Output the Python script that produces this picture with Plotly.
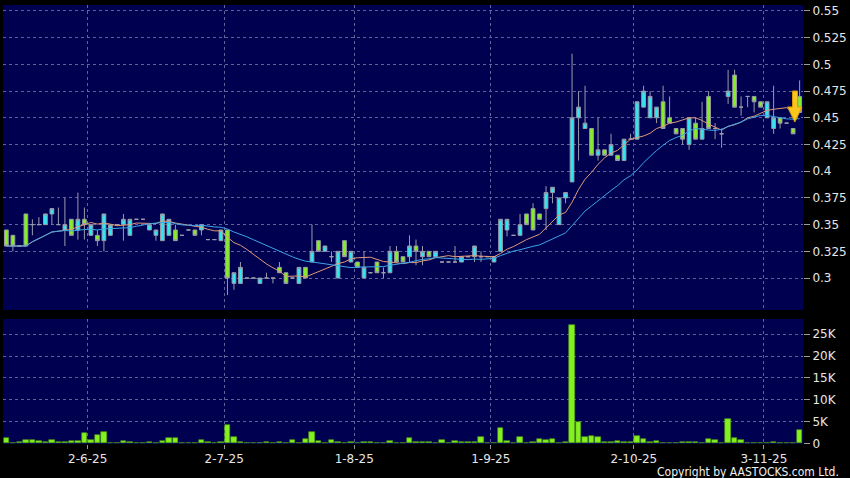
import pandas as pd
import plotly.graph_objects as go

# daily sessions, left to right (one entry per trading day)
opens = [0.345, 0.34, 0.33, 0.36, 0.35, 0.35, 0.35, 0.36, 0.35, 0.345,
         0.355, 0.345, 0.355, 0.34, 0.34, 0.335, 0.34, 0.35, 0.35, 0.34,
         0.355, 0.355, 0.345, 0.34, 0.335, 0.34, 0.345, 0.34, 0.345, 0.345,
         0.345, 0.336, 0.336, 0.335, 0.345, 0.295, 0.295, 0.30, 0.30, 0.295,
         0.30, 0.30, 0.31, 0.305, 0.30, 0.295, 0.31, 0.315, 0.335, 0.325,
         0.32, 0.30, 0.335, 0.315, 0.315, 0.30, 0.305, 0.315, 0.305, 0.305,
         0.325, 0.32, 0.32, 0.33, 0.32, 0.325, 0.32, 0.315, 0.315, 0.315,
         0.315, 0.32, 0.32, 0.32, 0.32, 0.315, 0.325, 0.345, 0.34, 0.34,
         0.36, 0.365, 0.36, 0.365, 0.38, 0.35, 0.375, 0.39, 0.45, 0.44,
         0.44, 0.415, 0.42, 0.415, 0.415, 0.41, 0.43, 0.43, 0.46, 0.45,
         0.45, 0.465, 0.45, 0.44, 0.44, 0.425, 0.445, 0.43, 0.47, 0.44,
         0.435, 0.47, 0.49, 0.46, 0.47, 0.47, 0.465, 0.45, 0.44, 0.45,
         0.445, 0.44, 0.47]
highs = [0.345, 0.34, 0.33, 0.36, 0.355, 0.357, 0.36, 0.365, 0.366, 0.375,
         0.355, 0.38, 0.366, 0.35, 0.345, 0.36, 0.35, 0.35, 0.36, 0.355,
         0.355, 0.355, 0.35, 0.345, 0.36, 0.355, 0.35, 0.34, 0.345, 0.345,
         0.35, 0.336, 0.336, 0.345, 0.345, 0.305, 0.315, 0.30, 0.30, 0.30,
         0.305, 0.30, 0.315, 0.305, 0.30, 0.31, 0.31, 0.35, 0.335, 0.33,
         0.325, 0.325, 0.335, 0.325, 0.315, 0.325, 0.305, 0.315, 0.31, 0.33,
         0.33, 0.32, 0.34, 0.336, 0.33, 0.325, 0.325, 0.315, 0.315, 0.33,
         0.32, 0.32, 0.33, 0.325, 0.32, 0.32, 0.355, 0.355, 0.34, 0.36,
         0.36, 0.37, 0.36, 0.386, 0.385, 0.375, 0.38, 0.51, 0.475, 0.48,
         0.44, 0.45, 0.42, 0.435, 0.415, 0.43, 0.435, 0.465, 0.48, 0.475,
         0.46, 0.48, 0.47, 0.44, 0.44, 0.45, 0.45, 0.465, 0.475, 0.445,
         0.44, 0.495, 0.495, 0.47, 0.47, 0.47, 0.465, 0.465, 0.48, 0.45,
         0.445, 0.44, 0.485]
lows = [0.33, 0.325, 0.33, 0.33, 0.34, 0.35, 0.35, 0.35, 0.35, 0.33,
        0.34, 0.336, 0.336, 0.34, 0.33, 0.325, 0.34, 0.35, 0.335, 0.34,
        0.355, 0.355, 0.345, 0.335, 0.335, 0.34, 0.335, 0.34, 0.345, 0.34,
        0.34, 0.336, 0.336, 0.335, 0.284, 0.289, 0.295, 0.30, 0.30, 0.295,
        0.30, 0.295, 0.305, 0.295, 0.30, 0.295, 0.30, 0.315, 0.325, 0.325,
        0.315, 0.30, 0.32, 0.315, 0.31, 0.30, 0.305, 0.305, 0.30, 0.305,
        0.315, 0.315, 0.315, 0.312, 0.312, 0.32, 0.32, 0.315, 0.315, 0.315,
        0.315, 0.32, 0.315, 0.315, 0.32, 0.315, 0.325, 0.339, 0.34, 0.34,
        0.35, 0.345, 0.355, 0.345, 0.37, 0.35, 0.37, 0.39, 0.41, 0.44,
        0.415, 0.41, 0.415, 0.415, 0.41, 0.41, 0.43, 0.43, 0.46, 0.45,
        0.445, 0.44, 0.445, 0.435, 0.425, 0.42, 0.43, 0.43, 0.44, 0.43,
        0.422, 0.463, 0.46, 0.452, 0.46, 0.455, 0.46, 0.45, 0.435, 0.44,
        0.445, 0.435, 0.455]
closes = [0.33, 0.33, 0.33, 0.33, 0.35, 0.35, 0.36, 0.365, 0.35, 0.35,
          0.34, 0.355, 0.35, 0.35, 0.335, 0.36, 0.35, 0.35, 0.355, 0.355,
          0.355, 0.355, 0.35, 0.345, 0.36, 0.355, 0.335, 0.34, 0.345, 0.34,
          0.35, 0.336, 0.336, 0.345, 0.30, 0.305, 0.31, 0.30, 0.30, 0.30,
          0.30, 0.30, 0.305, 0.295, 0.30, 0.31, 0.30, 0.325, 0.325, 0.33,
          0.32, 0.325, 0.32, 0.325, 0.31, 0.31, 0.305, 0.305, 0.305, 0.325,
          0.315, 0.315, 0.33, 0.325, 0.325, 0.32, 0.325, 0.315, 0.315, 0.315,
          0.32, 0.32, 0.33, 0.32, 0.32, 0.32, 0.355, 0.355, 0.34, 0.35,
          0.35, 0.345, 0.355, 0.38, 0.385, 0.375, 0.38, 0.45, 0.46, 0.445,
          0.415, 0.42, 0.415, 0.425, 0.41, 0.43, 0.43, 0.465, 0.475, 0.47,
          0.46, 0.44, 0.445, 0.435, 0.43, 0.45, 0.43, 0.44, 0.44, 0.44,
          0.435, 0.475, 0.46, 0.46, 0.47, 0.465, 0.46, 0.465, 0.45, 0.445,
          0.445, 0.435, 0.455]
volumes = [1300, 100, 300, 770, 700, 530, 380, 840, 230, 300,
           530, 460, 2450, 700, 2000, 2600, 80, 0, 530, 230,
           100, 0, 300, 100, 530, 1150, 1150, 0, 0, 80,
           700, 230, 50, 230, 4280, 1530, 230, 50, 50, 80,
           200, 50, 300, 80, 840, 80, 1000, 2600, 610, 80,
           770, 380, 0, 300, 50, 230, 300, 50, 80, 530,
           50, 150, 1150, 380, 380, 230, 80, 770, 100, 460,
           380, 300, 300, 1450, 100, 100, 3510, 530, 50, 1380,
           80, 300, 1000, 770, 1000, 80, 230, 27070, 4890, 1380,
           1760, 1450, 300, 300, 530, 380, 300, 1760, 920, 300,
           530, 100, 80, 80, 230, 230, 230, 80, 920, 770,
           100, 5580, 1230, 770, 100, 100, 80, 100, 380, 100,
           100, 80, 3060]

# first session of each labelled month
tick_idx = [13, 34, 54, 75, 97, 117]
tick_labels = ['2-6-25', '2-7-25', '1-8-25', '1-9-25', '2-10-25', '3-11-25']
price_ticks = [0.3, 0.325, 0.35, 0.375, 0.4, 0.425, 0.45, 0.475, 0.5, 0.525, 0.55]
price_labels = ['0.3', '0.325', '0.35', '0.375', '0.4', '0.425', '0.45', '0.475', '0.5', '0.525', '0.55']
vol_ticks = [0, 5000, 10000, 15000, 20000, 25000]
vol_labels = ['0', '5K', '10K', '15K', '20K', '25K']

df = pd.DataFrame(dict(open=opens, high=highs, low=lows, close=closes, volume=volumes))
df['ma10'] = df['close'].rolling(10, min_periods=1).mean()
df['ma20'] = df['close'].rolling(20, min_periods=1).mean()
idx = list(range(len(df)))
grid_pos = [i - 0.5 for i in tick_idx]  # month boundary

NAVY = '#000050'
GRID = '#62629a'
WICK = '#9a9aaa'
CYAN = '#30e6f2'
GREEN = '#84f020'
font = dict(family='DejaVu Sans', size=12, color='#e6e6e6')

fig = go.Figure()
fig.add_trace(go.Candlestick(
    x=idx, open=df['open'], high=df['high'], low=df['low'], close=df['close'],
    increasing=dict(fillcolor=CYAN, line=dict(color=WICK, width=1)),
    decreasing=dict(fillcolor=GREEN, line=dict(color=WICK, width=1)),
    whiskerwidth=0, xaxis='x', yaxis='y', hoverinfo='skip'))
fig.add_trace(go.Scatter(x=idx, y=df['ma10'], mode='lines', line=dict(color='#e09a76', width=1),
                         xaxis='x', yaxis='y', hoverinfo='skip'))
fig.add_trace(go.Scatter(x=idx, y=df['ma20'], mode='lines', line=dict(color='#3aa6e6', width=1),
                         xaxis='x', yaxis='y', hoverinfo='skip'))
fig.add_trace(go.Bar(x=idx, y=df['volume'], width=0.86, marker_color=GREEN,
                     marker_line=dict(color='#4f9a12', width=0.6),
                     xaxis='x2', yaxis='y2', hoverinfo='skip'))

# plot area spans pixels x 3..807, y 5..444
def px(x, y):
    return (x - 3) / 804, (444 - y) / 439

pts = [px(796.5, 91), px(801.5, 91), px(801.5, 107), px(806, 107), px(798.8, 122),
       px(791.5, 107), px(796.5, 107)]
path = 'M ' + ' L '.join(f'{a:.4f},{b:.4f}' for a, b in pts) + ' Z'
fig.add_shape(type='path', path=path, xref='paper', yref='paper',
              fillcolor='#f9c61e', line=dict(color='#dc9c08', width=1))

xr = [-0.52, 122.52]
fig.update_layout(
    width=850, height=478,
    margin=dict(l=3, r=43, t=5, b=34),
    paper_bgcolor='black', plot_bgcolor=NAVY,
    showlegend=False, boxgap=0.18, bargap=0,
    font=font,
    xaxis=dict(domain=[0, 1], anchor='y', range=xr, tickvals=grid_pos, showticklabels=False,
               ticks='', showgrid=True, gridcolor=GRID, griddash='3px,3px', gridwidth=1,
               zeroline=False, showline=False, rangeslider=dict(visible=False), fixedrange=True),
    xaxis2=dict(domain=[0, 1], anchor='y2', range=xr, matches='x', tickvals=grid_pos,
                ticktext=tick_labels, ticks='outside', ticklen=4, tickcolor='#9a9a9a',
                showgrid=True, gridcolor=GRID, griddash='3px,3px', gridwidth=1,
                zeroline=False, showline=False, tickfont=font, fixedrange=True),
    yaxis=dict(domain=[(444 - 310) / 439, 1], anchor='x', side='right', range=[0.2701, 0.5556],
               tickvals=price_ticks, ticktext=price_labels, ticks='outside', ticklen=6,
               tickcolor='#9a9a9a', showgrid=True, gridcolor=GRID, griddash='3px,3px',
               zeroline=False, showline=False, tickfont=font, fixedrange=True),
    yaxis2=dict(domain=[0, (444 - 319) / 439], anchor='x2', side='right', range=[-150, 28500],
                tickvals=vol_ticks, ticktext=vol_labels, ticks='outside', ticklen=6,
                tickcolor='#9a9a9a', showgrid=True, gridcolor=GRID, griddash='3px,3px',
                zeroline=False, showline=False, tickfont=font, fixedrange=True),
)
fig.add_annotation(text='Copyright by AASTOCKS.com Ltd.', xref='paper', yref='paper',
                   x=(845 - 3) / 804, y=(444 - 472) / 439, xanchor='right', yanchor='middle',
                   showarrow=False,
                   font=dict(family='Liberation Sans Narrow, DejaVu Sans Condensed, sans-serif',
                             size=12, color='#f0f0f0'))

# the page's default body margin would push the 850x478 figure off-screen
fig.write_html("out.html", config=dict(displayModeBar=False),
               post_script="document.body.style.margin='0';")
